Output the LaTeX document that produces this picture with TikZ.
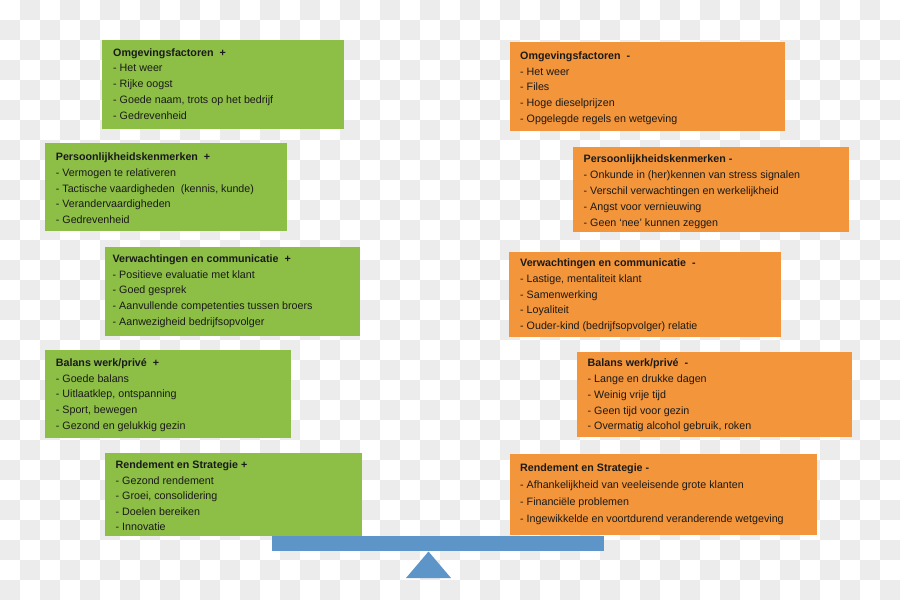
\documentclass[tikz,border=0pt]{standalone}
\usepackage{fontspec}
\setmainfont{Liberation Sans}
\definecolor{chk}{HTML}{ECECEC}
\definecolor{gfill}{HTML}{8DBE46}
\definecolor{ofill}{HTML}{F3953A}
\definecolor{bfill}{HTML}{5E95C9}
\definecolor{txtcol}{HTML}{1A1A1A}
\tikzset{
  box/.style={rectangle, anchor=north west, inner sep=0pt, draw=none},
  gbox/.style={box, fill=gfill},
  obox/.style={box, fill=ofill},
  txt/.style={anchor=north west, inner sep=0pt, align=left, text=txtcol,
    font=\fontsize{10.7}{15.7}\selectfont},
}
\newcommand{\fstrut}{\rule{0pt}{9pt}}
\begin{document}
\begin{tikzpicture}[x=1pt,y=-1pt]
\useasboundingbox (0,0) rectangle (900,600);
% checkerboard background
\fill[white] (0,0) rectangle (900,600);
\foreach \j in {0,...,29}{
  \pgfmathtruncatemacro\st{mod(\j+1,2)}
  \pgfmathtruncatemacro\stb{\st+2}
  \foreach \i in {\st,\stb,...,44}{
    \fill[chk] (\i*20,\j*20) rectangle ++(20,20);
  }
}
% green boxes (left)
\node[gbox, minimum width=242pt, minimum height=89pt] (g1) at (102,40) {};
\node[txt] (tg1) at (113,47) {\fstrut\textbf{Omgevingsfactoren\ \ +}\\- Het weer\\- Rijke oogst\\- Goede naam, trots op het bedrijf\\- Gedrevenheid};
\node[gbox, minimum width=242pt, minimum height=88pt] (g2) at (45,143) {};
\node[txt] (tg2) at (55.7,151.5) {\fstrut\textbf{Persoonlijkheidskenmerken\ \ +}\\- Vermogen te relativeren\\- Tactische vaardigheden\ \ (kennis, kunde)\\- Verandervaardigheden\\- Gedrevenheid};
\node[gbox, minimum width=255pt, minimum height=89pt] (g3) at (105,247) {};
\node[txt] (tg3) at (112.5,253.3) {\fstrut\textbf{Verwachtingen en communicatie\ \ +}\\- Positieve evaluatie met klant\\- Goed gesprek\\- Aanvullende competenties tussen broers\\- Aanwezigheid bedrijfsopvolger};
\node[gbox, minimum width=246pt, minimum height=88.5pt] (g4) at (45,349.5) {};
\node[txt] (tg4) at (55.7,357.3) {\fstrut\textbf{Balans werk/privé\ \ +}\\- Goede balans\\- Uitlaatklep, ontspanning\\- Sport, bewegen\\- Gezond en gelukkig gezin};
\node[gbox, minimum width=257pt, minimum height=83pt] (g5) at (105,453) {};
\node[txt, font=\fontsize{10.7}{15.5}\selectfont] (tg5) at (115.5,459.7) {\fstrut\textbf{Rendement en Strategie +}\\- Gezond rendement\\- Groei, consolidering\\- Doelen bereiken\\- Innovatie};
% orange boxes (right)
\node[obox, minimum width=275pt, minimum height=89pt] (o1) at (510,42) {};
\node[txt] (to1) at (520,50.3) {\fstrut\textbf{Omgevingsfactoren\ \ -}\\- Het weer\\- Files\\- Hoge dieselprijzen\\- Opgelegde regels en wetgeving};
\node[obox, minimum width=276pt, minimum height=85pt] (o2) at (573,147) {};
\node[txt, font=\fontsize{10.7}{15.8}\selectfont] (to2) at (583.5,153.7) {\fstrut\textbf{Persoonlijkheidskenmerken -}\\- Onkunde in (her)kennen van stress signalen\\- Verschil verwachtingen en werkelijkheid\\- Angst voor vernieuwing\\- Geen ‘nee’ kunnen zeggen};
\node[obox, minimum width=272pt, minimum height=85pt] (o3) at (509,252) {};
\node[txt] (to3) at (520,257.5) {\fstrut\textbf{Verwachtingen en communicatie\ \ -}\\- Lastige, mentaliteit klant\\- Samenwerking\\- Loyaliteit\\- Ouder-kind (bedrijfsopvolger) relatie};
\node[obox, minimum width=275pt, minimum height=85pt] (o4) at (577,352) {};
\node[txt] (to4) at (587.5,357.7) {\fstrut\textbf{Balans werk/privé\ \ -}\\- Lange en drukke dagen\\- Weinig vrije tijd\\- Geen tijd voor gezin\\- Overmatig alcohol gebruik, roken};
\node[obox, minimum width=307pt, minimum height=81pt] (o5) at (510,454) {};
\node[txt, font=\fontsize{10.7}{17}\selectfont] (to5) at (520,462) {\fstrut\textbf{Rendement en Strategie -}\\- Afhankelijkheid van veeleisende grote klanten\\- Financiële problemen\\- Ingewikkelde en voortdurend veranderende wetgeving};
% balance beam and fulcrum
\node[box, fill=bfill, minimum width=331.5pt, minimum height=15pt] (beam) at (272,536) {};
\fill[bfill] (428.5,551.5) -- (451,578) -- (406,578) -- cycle;
\end{tikzpicture}
\end{document}
